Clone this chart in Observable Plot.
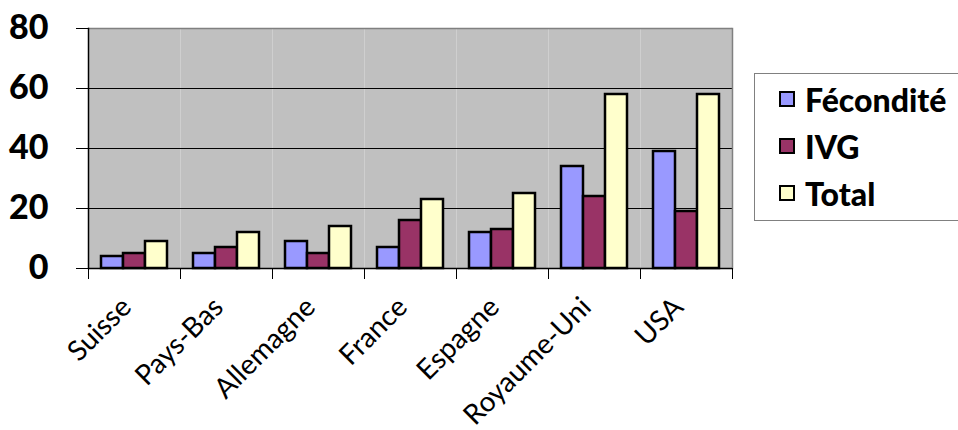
<!DOCTYPE html>
<html><head><meta charset="utf-8">
<script src="https://cdn.jsdelivr.net/npm/d3@7"></script>
<script src="https://cdn.jsdelivr.net/npm/@observablehq/plot@0.6"></script>
<style>
body{margin:0;background:#fff;}
#wrap{position:relative;width:958px;height:430px;overflow:hidden;}
#legend{position:absolute;left:754px;top:73px;width:220px;height:148px;border:1px solid #808080;box-sizing:border-box;background:#fff;font-family:Lato;font-weight:900;font-size:32px;color:#000;}
.item{position:absolute;left:24px;display:flex;align-items:center;height:32px;}
.sw{width:12px;height:12px;border:2px solid #000;margin-right:10px;}
</style>
</head><body><div id="wrap"></div>
<script>
const countries = ["Suisse","Pays-Bas","Allemagne","France","Espagne","Royaume-Uni","USA"];
const series = ["Fécondité","IVG","Total"];
const fecondite = [4,5,9,7,12,34,39];
const ivg = [5,7,5,16,13,24,19];
const total = [9,12,14,23,25,58,58];
const colors = ["#9999FF","#993366","#FFFFCC"];
const yTicks = [0,20,40,60,80];

const values = [fecondite, ivg, total];
const data = [];
countries.forEach((c, i) => series.forEach((s, j) => data.push({country: c, series: s, value: values[j][i]})));

const chart = Plot.plot({
  width: 958, height: 430,
  marginLeft: 85, marginRight: 223, marginTop: 28, marginBottom: 162,
  style: {background: "transparent", fontFamily: "Lato", color: "#000"},
  fx: {domain: countries, padding: 0},
  x: {domain: series, paddingInner: 0, paddingOuter: 0.52, axis: null},
  y: {domain: [0, 80], ticks: yTicks},
  color: {domain: series, range: colors},
  marks: [
    Plot.frame({fill: "#C0C0C0", stroke: null}),
    Plot.gridY(yTicks.slice(1, 4), {stroke: "#000", strokeOpacity: 1, strokeWidth: 1}),
    Plot.ruleY([80], {stroke: "#808080", strokeWidth: 1.5}),
    Plot.frame({anchor: "right", facet: "super", stroke: "#808080", strokeWidth: 1.5}),
    Plot.barY(data, {fx: "country", x: "series", y: "value", fill: "series", stroke: "#000", strokeWidth: 2.5}),
    Plot.frame({anchor: "left", facet: "super", stroke: "#000", strokeWidth: 1.5}),
    Plot.ruleY([0], {stroke: "#000", strokeWidth: 1.5}),
    Plot.frame({anchor: "left", insetTop: 240, insetBottom: -10, stroke: "#000", strokeWidth: 1}),
    Plot.frame({anchor: "right", facet: "super", insetTop: 240, insetBottom: -10, stroke: "#000", strokeWidth: 1}),
    Plot.axisY(yTicks, {tickSize: 12, tickPadding: 28, fontSize: 34, fontWeight: 900, label: null, stroke: "#000"}),
    Plot.axisFx({anchor: "bottom", tickSize: 0, tickRotate: -45, tickPadding: 24, dx: -8, dy: 10, fontSize: 28, label: null})
  ]
});
const wrap = document.getElementById("wrap");
wrap.appendChild(chart);

const legend = document.createElement("div");
legend.id = "legend";
const tops = [9, 56, 103];
series.forEach((s, j) => {
  const it = document.createElement("div");
  it.className = "item";
  it.style.top = tops[j] + "px";
  const sw = document.createElement("span");
  sw.className = "sw";
  sw.style.background = colors[j];
  const tx = document.createElement("span");
  tx.textContent = s;
  it.appendChild(sw); it.appendChild(tx);
  legend.appendChild(it);
});
wrap.appendChild(legend);
</script>
</body></html>
